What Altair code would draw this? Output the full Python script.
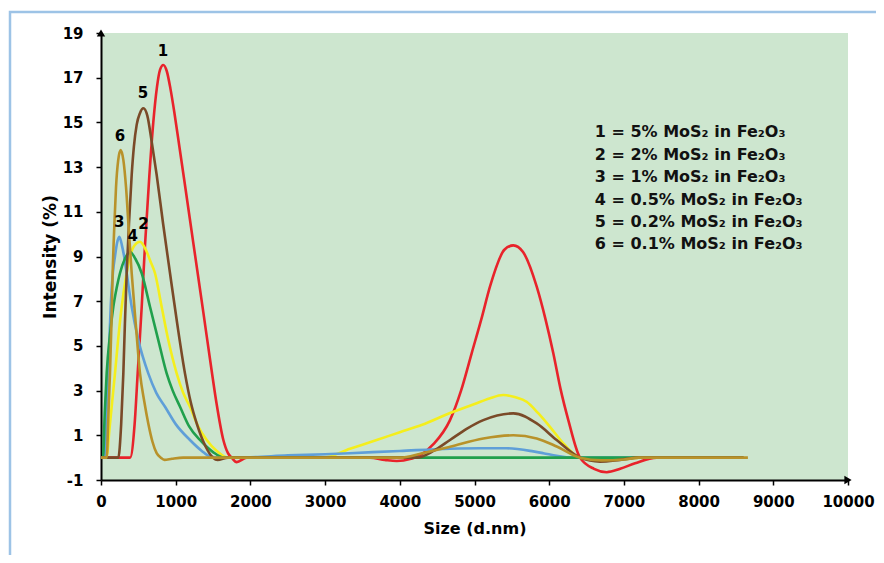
import altair as alt
import pandas as pd

# ---- data ----
s1_x = [0, 390, 450, 491, 545, 589, 647, 700, 750, 790, 834, 880, 930, 984, 1050, 1111, 1236, 1370, 1481, 1548, 1637, 1700, 1749, 1816, 1950, 3600, 3800, 3960, 4150, 4270, 4450, 4672, 4820, 4962, 5100, 5207, 5400, 5520, 5650, 5833, 5950, 6055, 6150, 6256, 6412, 6600, 6770, 6950, 7150, 7440, 8600]
s1_y = [0, 0, 1.5, 3.77, 6.75, 9.5, 12.6, 15.0, 16.6, 17.35, 17.57, 17.3, 16.5, 15.4, 13.9, 12.5, 9.6, 6.5, 3.9, 2.4, 0.8, 0.2, 0, -0.2, 0, 0, -0.1, -0.15, -0.05, 0.1, 0.6, 1.68, 3.0, 4.67, 6.3, 7.65, 9.3, 9.5, 9.2, 7.65, 6.2, 4.67, 3.1, 1.68, 0, -0.5, -0.65, -0.5, -0.25, 0, 0]

s2_x = [0, 70, 120, 187, 230, 277, 330, 388, 450, 522, 600, 660, 723, 812, 901, 1013, 1100, 1191, 1300, 1415, 1550, 1700, 2970, 3333, 3700, 4000, 4300, 4672, 5000, 5200, 5385, 5550, 5698, 5850, 6010, 6200, 6412, 6700, 7000, 7200, 8600]
s2_y = [0, 0, 1.5, 3.77, 5.3, 6.75, 8.0, 9.0, 9.5, 9.66, 9.3, 8.8, 8.25, 6.75, 5.26, 3.77, 2.9, 2.28, 1.4, 0.79, 0.3, 0, 0, 0.4, 0.8, 1.14, 1.47, 2.0, 2.4, 2.65, 2.8, 2.7, 2.5, 2.0, 1.38, 0.6, 0, -0.1, -0.05, 0, 0]

s3_x = [0, 50, 80, 98, 115, 130, 160, 187, 215, 245, 280, 310, 344, 411, 500, 633, 740, 857, 1000, 1191, 1350, 1460, 1600, 2000, 2500, 3000, 3333, 4000, 4672, 5074, 5430, 5787, 5920, 6100, 6230, 6412, 8600]
s3_y = [0, 0, 2.5, 3.77, 5.5, 6.75, 8.3, 9.0, 9.6, 9.88, 9.5, 9.0, 8.25, 6.75, 5.26, 3.77, 2.9, 2.28, 1.5, 0.79, 0.3, 0.05, 0, 0.02, 0.1, 0.15, 0.2, 0.3, 0.4, 0.42, 0.42, 0.28, 0.2, 0.08, 0.02, 0, 0]

s4_x = [0, 27, 50, 76, 120, 165, 210, 254, 320, 388, 460, 545, 656, 767, 879, 960, 1058, 1180, 1325, 1500, 1650, 8600]
s4_y = [0, 0, 2.0, 3.77, 5.5, 6.75, 7.6, 8.25, 8.9, 9.2, 8.9, 8.25, 6.75, 5.26, 3.77, 3.0, 2.28, 1.4, 0.79, 0.25, 0, 0]

s5_x = [0, 232, 270, 299, 320, 344, 375, 411, 440, 478, 520, 567, 620, 678, 745, 830, 924, 1020, 1124, 1200, 1281, 1400, 1500, 1560, 1700, 4226, 4450, 4672, 4900, 5118, 5520, 5833, 6100, 6412, 6680, 6950, 7200, 8600]
s5_y = [0, 0, 1.5, 3.77, 6.0, 8.25, 10.5, 12.66, 13.9, 14.9, 15.4, 15.63, 15.3, 14.15, 12.66, 10.5, 8.25, 6.0, 3.77, 2.5, 1.53, 0.5, 0, -0.1, 0, 0, 0.3, 0.79, 1.3, 1.68, 1.98, 1.53, 0.79, 0, -0.18, -0.1, 0, 0]

s6_x = [0, 76, 100, 120, 140, 156, 180, 201, 230, 263, 300, 335, 370, 411, 465, 522, 580, 633, 690, 745, 800, 850, 950, 1100, 4000, 4300, 4672, 5118, 5520, 5833, 6100, 6412, 6700, 7000, 7200, 8660]
s6_y = [0, 0, 2.0, 3.77, 6.0, 8.25, 10.5, 12.1, 13.3, 13.76, 13.3, 12.1, 10.3, 8.25, 6.0, 3.77, 2.5, 1.53, 0.7, 0.2, 0, -0.1, -0.05, 0, 0, 0.2, 0.49, 0.86, 1.0, 0.86, 0.5, 0, -0.12, -0.08, 0, 0]

series_ids = ["1", "2", "3", "4", "5", "6"]
series_x = [s1_x, s2_x, s3_x, s4_x, s5_x, s6_x]
series_y = [s1_y, s2_y, s3_y, s4_y, s5_y, s6_y]
series_colors = ["#e8232b", "#f4ee1c", "#5f9fd8", "#20a04c", "#7a4a28", "#b8922a"]

peak_text = ["1", "5", "6", "3", "4", "2"]
peak_x = [830, 563, 254, 245, 424, 567]
peak_y = [17.85, 15.95, 14.05, 10.2, 9.55, 10.1]

legend_lines = [
    "1 = 5% MoS\u2082 in Fe\u2082O\u2083",
    "2 = 2% MoS\u2082 in Fe\u2082O\u2083",
    "3 = 1% MoS\u2082 in Fe\u2082O\u2083",
    "4 = 0.5% MoS\u2082 in Fe\u2082O\u2083",
    "5 = 0.2% MoS\u2082 in Fe\u2082O\u2083",
    "6 = 0.1% MoS\u2082 in Fe\u2082O\u2083",
]
legend_x = [6610] * 6
legend_y = [14.55, 13.55, 12.55, 11.55, 10.55, 9.55]

x_ticks = list(range(0, 10001, 1000))
y_ticks = list(range(-1, 20, 2))

# ---- tables ----
rows = []
for sid, xs, ys in zip(series_ids, series_x, series_y):
    for i, (a, b) in enumerate(zip(xs, ys)):
        rows.append({"series": sid, "size": a, "intensity": b, "order": i})
df = pd.DataFrame(rows)
peaks = pd.DataFrame({"t": peak_text, "size": peak_x, "intensity": peak_y})
leg = pd.DataFrame({"t": legend_lines, "size": legend_x, "intensity": legend_y})
arrows = pd.DataFrame({"size": [0, 10000], "intensity": [19, -1],
                       "shape": ["triangle-up", "triangle-right"]})

FONT = "DejaVu Sans"
xscale = alt.Scale(domain=[0, 10000], nice=False)
yscale = alt.Scale(domain=[-1, 19], nice=False)

xaxis = alt.Axis(values=x_ticks, title="Size (d.nm)", grid=False, domainColor="black",
                 domainWidth=2, tickColor="black", tickSize=5, tickWidth=1.5,
                 labelExpr="'' + datum.value",
                 labelFont=FONT, labelFontSize=15, labelFontWeight="bold", labelColor="black",
                 labelPadding=9, titleFont=FONT, titleFontSize=16, titleFontWeight="bold",
                 titleColor="black", titlePadding=11, labelFlush=False)
yaxis = alt.Axis(values=y_ticks, title="Intensity (%)", grid=False, domainColor="black",
                 domainWidth=2, tickColor="black", tickSize=5, tickWidth=1.5,
                 labelExpr="'' + datum.value",
                 labelFont=FONT, labelFontSize=15, labelFontWeight="bold", labelColor="black",
                 labelPadding=13, titleFont=FONT, titleFontSize=17, titleFontWeight="bold",
                 titleColor="black", titlePadding=3, labelFlush=False)

frame = alt.Chart(pd.DataFrame({"a": [0]})).mark_rect(
    fill="transparent", stroke="#9dc3e6", strokeWidth=2.5
).encode(x=alt.value(-91), x2=alt.value(1000), y=alt.value(-21), y2=alt.value(700))

lines = alt.Chart(df).mark_line(strokeWidth=2.6, interpolate="monotone").encode(
    x=alt.X("size:Q", scale=xscale, axis=xaxis),
    y=alt.Y("intensity:Q", scale=yscale, axis=yaxis),
    color=alt.Color("series:N", scale=alt.Scale(domain=series_ids, range=series_colors), legend=None),
    order="order:Q",
)

peak_labels = alt.Chart(peaks).mark_text(font=FONT, fontSize=15, fontWeight="bold",
                                         color="black", baseline="bottom").encode(
    x=alt.X("size:Q", scale=xscale), y=alt.Y("intensity:Q", scale=yscale), text="t:N")

legend_text = alt.Chart(leg).mark_text(font=FONT, fontSize=16, fontWeight="bold",
                                       color="#111111", align="left", baseline="middle").encode(
    x=alt.X("size:Q", scale=xscale), y=alt.Y("intensity:Q", scale=yscale), text="t:N")

arrow_marks = alt.Chart(arrows).mark_point(filled=True, color="black", size=70, opacity=1).encode(
    x=alt.X("size:Q", scale=xscale), y=alt.Y("intensity:Q", scale=yscale),
    shape=alt.Shape("shape:N", scale=None))

chart = alt.layer(frame, lines, peak_labels, legend_text, arrow_marks).properties(
    width=747, height=447,
    autosize=alt.AutoSizeParams(type="none"),
    padding={"left": 93, "top": 25, "right": 28, "bottom": 75},
    background="white",
).configure_view(fill="#cde6cf", stroke=None)

chart.save("out.html", embed_options={"renderer": "svg", "actions": False})
